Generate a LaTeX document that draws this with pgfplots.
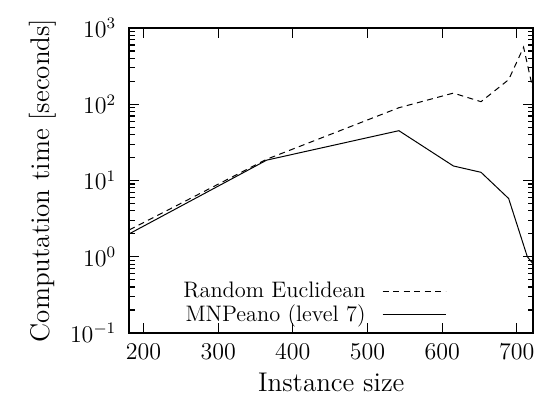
\documentclass[border=0pt]{standalone}
\usepackage{pgfplots}
\pgfplotsset{compat=1.18}

\begin{document}
\begin{tikzpicture}
\begin{axis}[
  name=ax,
  scale only axis, width=202pt, height=152.5pt,
  xmin=181, xmax=722,
  ymode=log, ymin=0.1, ymax=1000,
  xtick={200,300,400,500,600,700},
  ytick={0.1,1,10,100,1000},
  minor x tick num=0,
  axis line style={line width=0.8pt},
  major tick length=5pt, minor tick length=2.8pt,
  every tick/.style={black, line width=0.6pt},
  tick label style={font=\fontsize{11.5}{13}\selectfont},
  yticklabel style={xshift=-3pt},
  xticklabel style={yshift=-2pt},
  xlabel={Instance size},
  ylabel={Computation time [seconds]},
  label style={font=\fontsize{13.5}{15}\selectfont},
  legend style={draw=none, fill=none, at={(0.80,0.0)}, anchor=south east,
    font=\fontsize{11.2}{12}\selectfont, row sep=-2pt},
  legend cell align=right,
  legend plot pos=right,
  legend image code/.code={\path[draw=none,fill=none] (0pt,0pt) -- (38pt,0pt);
    \draw[#1] (6.5pt,0pt) -- (38pt,0pt);},
]
\addplot[black, line width=0.5pt, dash pattern=on 3pt off 2.25pt] coordinates {
  (181,2.25) (365,19) (542,90) (615,140) (652,108) (689,210) (709,560) (722,150)
};
\addlegendentry{Random Euclidean}
\addplot[black, line width=0.5pt] coordinates {
  (181,2.0) (365,18.5) (542,45) (615,15.5) (652,12.8) (689,5.8) (714,1.0) (722,0.8)
};
\addlegendentry{MNPeano (level 7)}
\end{axis}
\pgfresetboundingbox
\path ([shift={(-64.65pt,-35.15pt)}]ax.south west) rectangle ([shift={(1.85pt,14pt)}]ax.north east);
\end{tikzpicture}
\end{document}
